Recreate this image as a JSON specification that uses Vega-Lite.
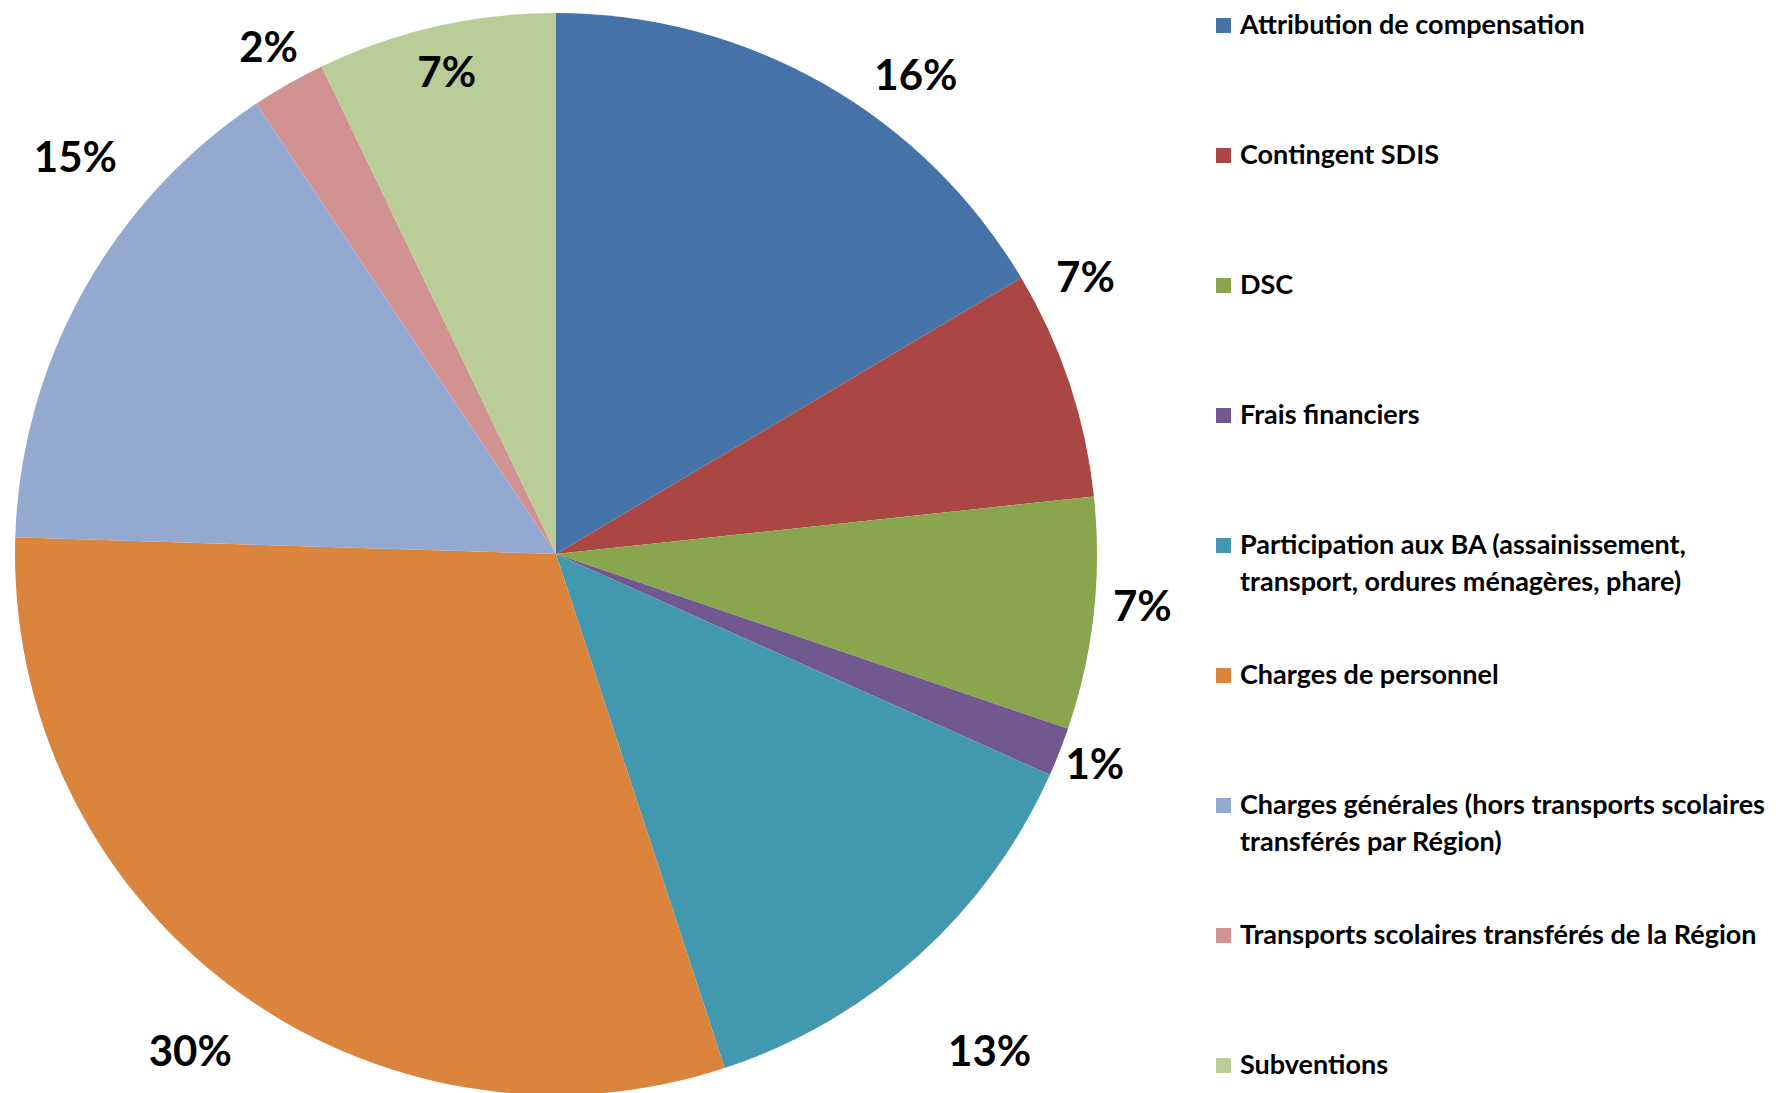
{
  "$schema": "https://vega.github.io/schema/vega-lite/v6.json",
  "width": 1112,
  "height": 1108,
  "autosize": {"type": "none"},
  "padding": {"left": 0, "top": 0, "right": 666, "bottom": 0},
  "background": "white",
  "config": {
    "view": {"stroke": null},
    "font": "Lato",
    "text": {"font": "Lato", "fontWeight": "bold", "fontSize": 42, "align": "center", "baseline": "middle"}
  },
  "data": {
    "values": [
      {"rank": 1, "poste": "Attribution de compensation", "part": 0.164},
      {"rank": 2, "poste": "Contingent SDIS", "part": 0.068},
      {"rank": 3, "poste": "DSC", "part": 0.069},
      {"rank": 4, "poste": "Frais financiers", "part": 0.0145},
      {"rank": 5, "poste": "Participation aux BA (assainissement, transport, ordures ménagères, phare)", "part": 0.132},
      {"rank": 6, "poste": "Charges de personnel", "part": 0.304},
      {"rank": 7, "poste": "Charges générales (hors transports scolaires transférés par Région)", "part": 0.151},
      {"rank": 8, "poste": "Transports scolaires transférés de la Région", "part": 0.022},
      {"rank": 9, "poste": "Subventions", "part": 0.071}
    ]
  },
  "encoding": {
    "theta": {"field": "part", "type": "quantitative", "stack": true},
    "order": {"field": "rank", "type": "quantitative"}
  },
  "layer": [
    {
      "mark": {"type": "arc", "radius": 541},
      "encoding": {
        "color": {
          "field": "poste",
          "type": "nominal",
          "sort": null,
          "scale": {
            "domain": [
              "Attribution de compensation",
              "Contingent SDIS",
              "DSC",
              "Frais financiers",
              "Participation aux BA (assainissement, transport, ordures ménagères, phare)",
              "Charges de personnel",
              "Charges générales (hors transports scolaires transférés par Région)",
              "Transports scolaires transférés de la Région",
              "Subventions"
            ],
            "range": ["#4572A7", "#AA4643", "#89A54E", "#71588F", "#4198AF", "#DB843D", "#93A9CF", "#D19392", "#B9CD96"]
          },
          "legend": {
            "title": null,
            "orient": "none",
            "legendX": 1210,
            "legendY": 12,
            "padding": 0,
            "symbolType": "square",
            "symbolSize": 225,
            "symbolStrokeWidth": 0,
            "labelFont": "Lato",
            "labelFontWeight": "bold",
            "labelFontSize": 27,
            "labelColor": "black",
            "labelOffset": 3,
            "labelLimit": 700,
            "gridAlign": "all",
            "rowPadding": 65,
            "labelExpr": "indexof(datum.label, 'Participation') == 0 ? ['Participation aux BA (assainissement,', 'transport, ordures ménagères, phare)'] : indexof(datum.label, 'Charges générales') == 0 ? ['Charges générales (hors transports scolaires', 'transférés par Région)'] : datum.label",
            "encode": {"labels": {"update": {"lineHeight": {"value": 37}}}}
          }
        }
      }
    },
    {
      "mark": {"type": "text", "radius": 598, "dx": 64, "dy": 43, "color": "black"},
      "encoding": {"text": {"condition": {"test": "datum.rank == 1", "field": "part", "type": "quantitative", "format": ".0%"}, "value": ""}}
    },
    {
      "mark": {"type": "text", "radius": 597, "dx": -37, "dy": -87, "color": "black"},
      "encoding": {"text": {"condition": {"test": "datum.rank == 2", "field": "part", "type": "quantitative", "format": ".0%"}, "value": ""}}
    },
    {
      "mark": {"type": "text", "radius": 590, "dy": -11, "color": "black"},
      "encoding": {"text": {"condition": {"test": "datum.rank == 3", "field": "part", "type": "quantitative", "format": ".0%"}, "value": ""}}
    },
    {
      "mark": {"type": "text", "radius": 579, "color": "black"},
      "encoding": {"text": {"condition": {"test": "datum.rank == 4", "field": "part", "type": "quantitative", "format": ".0%"}, "value": ""}}
    },
    {
      "mark": {"type": "text", "radius": 661, "dx": -9, "dy": 8, "color": "black"},
      "encoding": {"text": {"condition": {"test": "datum.rank == 5", "field": "part", "type": "quantitative", "format": ".0%"}, "value": ""}}
    },
    {
      "mark": {"type": "text", "radius": 619, "dx": 5, "dy": 3, "color": "black"},
      "encoding": {"text": {"condition": {"test": "datum.rank == 6", "field": "part", "type": "quantitative", "format": ".0%"}, "value": ""}}
    },
    {
      "mark": {"type": "text", "radius": 622, "dx": 63, "dy": -93, "color": "black"},
      "encoding": {"text": {"condition": {"test": "datum.rank == 7", "field": "part", "type": "quantitative", "format": ".0%"}, "value": ""}}
    },
    {
      "mark": {"type": "text", "radius": 581, "color": "black"},
      "encoding": {"text": {"condition": {"test": "datum.rank == 8", "field": "part", "type": "quantitative", "format": ".0%"}, "value": ""}}
    },
    {
      "mark": {"type": "text", "radius": 492, "color": "black"},
      "encoding": {"text": {"condition": {"test": "datum.rank == 9", "field": "part", "type": "quantitative", "format": ".0%"}, "value": ""}}
    }
  ]
}
